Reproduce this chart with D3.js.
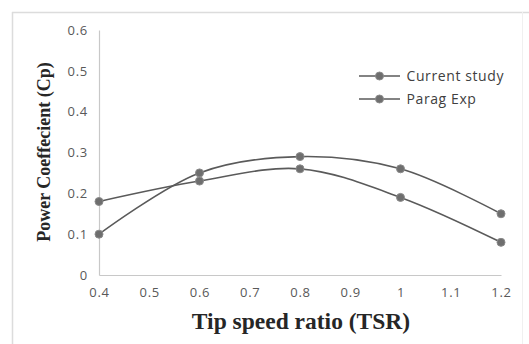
<!DOCTYPE html>
<html>
<head>
<meta charset="utf-8">
<script src="https://cdn.jsdelivr.net/npm/d3@7"></script>
<style>
  body { margin: 0; background: #fff; }
  svg { display: block; }
</style>
</head>
<body>
<div id="chart"></div>
<script>
var w = 529,
  h = 344;

// data
var tsr = [0.4, 0.6, 0.8, 1.0, 1.2];
var currentStudy = [0.10, 0.25, 0.29, 0.26, 0.15];
var paragExp = [0.18, 0.23, 0.26, 0.19, 0.08];
var seriesNames = ["Current study", "Parag Exp"];
var xTicks = [0.4, 0.5, 0.6, 0.7, 0.8, 0.9, 1.0, 1.1, 1.2];
var yTicks = [0, 0.1, 0.2, 0.3, 0.4, 0.5, 0.6];

var margin = {left: 99, right: 28, top: 30, bottom: 69};

var svg = d3.select("#chart").append("svg")
  .attr("width", w)
  .attr("height", h);

// chart frame (top and left edges visible, right edge faint)
svg.append("line")
  .attr("x1", 12).attr("x2", w).attr("y1", 12.5).attr("y2", 12.5)
  .attr("stroke", "#dcdcdc").attr("stroke-width", 1.5);
svg.append("line")
  .attr("x1", 12.5).attr("x2", 12.5).attr("y1", 12).attr("y2", h)
  .attr("stroke", "#dcdcdc").attr("stroke-width", 1.5);
svg.append("line")
  .attr("x1", 522.5).attr("x2", 522.5).attr("y1", 12).attr("y2", h)
  .attr("stroke", "#f0f0f0").attr("stroke-width", 1);

var x = d3.scaleLinear().domain([0.4, 1.2]).range([margin.left, w - margin.right]);
var y = d3.scaleLinear().domain([0, 0.6]).range([h - margin.bottom, margin.top]);

// axes
var fmt = function(d) { return d3.format("~g")(+d.toFixed(1)); };
var xAxis = svg.append("g")
  .attr("transform", "translate(0," + y(0) + ")")
  .call(d3.axisBottom(x).tickValues(xTicks).tickSize(0).tickPadding(13).tickFormat(fmt));
var yAxis = svg.append("g")
  .attr("transform", "translate(" + x(0.4) + ",0)")
  .call(d3.axisLeft(y).tickValues(yTicks).tickSize(0).tickPadding(11).tickFormat(fmt));

[xAxis, yAxis].forEach(function(a) {
  a.select(".domain").attr("stroke", "#c8c8c8").attr("stroke-width", 1.2);
  a.selectAll("text")
    .attr("font-family", "'Open Sans', sans-serif")
    .attr("font-size", "13px")
    .attr("letter-spacing", "0.7px")
    .attr("fill", "#595959");
});

// lines
var line = d3.line()
  .x(function(d) { return x(d[0]); })
  .y(function(d) { return y(d[1]); })
  .curve(d3.curveCatmullRom.alpha(0.5));

var series = [currentStudy, paragExp];
series.forEach(function(vals) {
  var pts = tsr.map(function(t, i) { return [t, vals[i]]; });
  svg.append("path")
    .datum(pts)
    .attr("d", line)
    .attr("fill", "none")
    .attr("stroke", "#5a5a5a")
    .attr("stroke-width", 1.6);
  svg.selectAll(null)
    .data(pts)
    .enter()
    .append("circle")
    .attr("cx", function(d) { return x(d[0]); })
    .attr("cy", function(d) { return y(d[1]); })
    .attr("r", 4)
    .attr("fill", "#6e6e6e")
    .attr("stroke", "#8a8a8a")
    .attr("stroke-width", 1);
});

// legend
var legend = svg.append("g").attr("transform", "translate(359,76)");
seriesNames.forEach(function(name, i) {
  var g = legend.append("g").attr("transform", "translate(0," + i * 23 + ")");
  g.append("line")
    .attr("x1", 0).attr("x2", 41)
    .attr("stroke", "#5a5a5a").attr("stroke-width", 1.6);
  g.append("circle")
    .attr("cx", 20.5).attr("r", 4)
    .attr("fill", "#6e6e6e").attr("stroke", "#8a8a8a");
  g.append("text")
    .attr("x", 47.5).attr("y", 5)
    .attr("font-family", "'Open Sans', sans-serif")
    .attr("font-size", "14px")
    .attr("letter-spacing", "0.6px")
    .attr("fill", "#404040")
    .text(name);
});

// axis titles
svg.append("text")
  .attr("x", 301).attr("y", 329)
  .attr("text-anchor", "middle")
  .attr("font-family", "'Liberation Serif', 'Times New Roman', serif")
  .attr("font-weight", "bold")
  .attr("font-size", "23.5px")
  .attr("fill", "#262626")
  .text("Tip speed ratio (TSR)");

svg.append("text")
  .attr("transform", "translate(50,152) rotate(-90)")
  .attr("text-anchor", "middle")
  .attr("font-family", "'Liberation Serif', 'Times New Roman', serif")
  .attr("font-weight", "bold")
  .attr("font-size", "18px")
  .attr("fill", "#262626")
  .text("Power Coeffecient (Cp)");
</script>
</body>
</html>
